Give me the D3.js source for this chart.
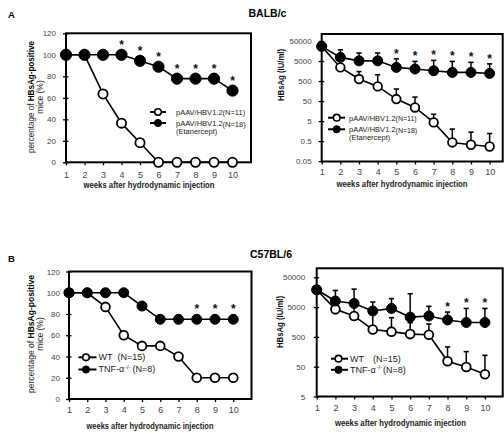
<!DOCTYPE html>
<html><head><meta charset="utf-8">
<script src="https://cdn.jsdelivr.net/npm/d3@7"></script>
<style>body{margin:0;background:#fff}svg{display:block}text{font-family:"Liberation Sans",Arial,sans-serif}</style>
</head><body>
<svg id="c" width="504" height="434"></svg>
<script>
// ---------- data ----------
const weeks = [1,2,3,4,5,6,7,8,9,10];
const weekLabels = ["1","2","3","4","5","6","7","8","9","10"];
const pctTicks = [0,20,40,60,80,100,120];
const pctTickLabels = ["0","20","40","60","80","100","120"];
const iuTicksA = [0.05,0.5,5,50,500,5000,50000];
const iuTickLabelsA = ["0.05","0.5","5","50","500","5000","50000"];
const iuTicksB = [5,50,500,5000,50000];
const iuTickLabelsB = ["5","50","500","5000","50000"];

// Panel A (BALB/c)
const aCtrlPct = [100,100,63.6,36.4,18.2,0,0,0,0,0];
const aEtaPct  = [100,100,100,100,94.4,88.9,77.8,77.8,77.8,66.7];
const aCtrlIU    = [27000,2400,630,270,63,24,4.3,0.43,0.33,0.27];
const aCtrlIUErr = [27000,3500,1500,1030,200,79,11,2,1.4,1.2];
const aEtaIU     = [27000,7600,5100,5100,2400,2000,1630,1350,1350,1200];
const aEtaIUErr  = [27000,18000,12600,12600,6500,4800,5400,4800,4300,3600];
const aStarWeeksPct = [4,5,6,7,8,9,10];
const aStarWeeksIU  = [5,6,7,8,9,10];
const aLegend = ["pAAV/HBV1.2", "(N=11)", "pAAV/HBV1.2", "(N=18)", "(Etanercept)"];

// Panel B (C57BL/6)
const bWtPct = [100,100,86.7,60,50,50,40,20,20,20];
const bKoPct = [100,100,100,100,87.5,75,75,75,75,75];
const bWtIU    = [19000,4200,2500,880,750,620,590,76,49,28];
const bWtIUErr = [19000,6000,5500,3000,2200,1500,1350,230,160,120];
const bKoIU    = [19000,8000,6600,3700,4500,2300,2500,1850,1520,1520];
const bKoIUErr = [19000,18000,20000,7400,9600,14000,5300,3400,4500,4500];
const bStarWeeksPct = [8,9,10];
const bStarWeeksIU  = [8,9,10];
const bLegend = ["WT", "(N=15)", "TNF-\u03b1", "-/-", "(N=8)"];

const xTitle = "weeks after hydrodynamic injection";
const pctTitle1a = "percentage of ", pctTitle1b = "HBsAg-positive", pctTitle2 = "mice (%)";
const iuTitle = "HBsAg (IU/ml)";

// ---------- drawing ----------
const svg = d3.select("#c");

function drawPanel(p) {
  const x = d3.scaleLinear().domain(p.xDomain).range([p.x0, p.x1]);
  const y = (p.log ? d3.scaleLog() : d3.scaleLinear()).domain(p.yDomain).range([p.y1, p.y0]);
  const g = svg.append("g");

  // x axis
  const xa = g.append("g").attr("transform", `translate(0,${p.y1})`)
    .call(d3.axisBottom(x).tickValues(weeks).tickFormat(d => weekLabels[weeks.indexOf(d)])
      .tickSize(3).tickSizeOuter(0).tickPadding(p.xPad));
  xa.select(".domain").remove();
  xa.selectAll(".tick line").attr("stroke", "#000").attr("stroke-width", 1.3);
  xa.selectAll("text").attr("font-size", 9).attr("fill", "#444").attr("font-family", "Liberation Sans, Arial, sans-serif");

  // y axis
  const ya = g.append("g").attr("transform", `translate(${p.x0},0)`)
    .call(d3.axisLeft(y).tickValues(p.yTicks).tickFormat(d => p.yLabels[p.yTicks.indexOf(d)])
      .tickSize(3).tickSizeOuter(0).tickPadding(p.yPad));
  ya.select(".domain").remove();
  ya.selectAll(".tick line").attr("x1", 2.5).attr("stroke", "#000").attr("stroke-width", 1.3);
  ya.selectAll("text").attr("font-size", 8).attr("fill", "#444").attr("font-family", "Liberation Sans, Arial, sans-serif");

  // frame
  g.append("rect").attr("x", p.x0).attr("y", p.y0).attr("width", p.x1 - p.x0).attr("height", p.y1 - p.y0)
    .attr("fill", "none").attr("stroke", "#000").attr("stroke-width", 2);

  // error bars (upper only)
  p.series.forEach(s => {
    if (!s.err) return;
    weeks.forEach((w, i) => {
      if (s.err[i] <= s.vals[i]) return;
      const cx = x(w), yv = y(s.vals[i]), ye = y(s.err[i]);
      g.append("line").attr("x1", cx).attr("x2", cx).attr("y1", yv).attr("y2", ye)
        .attr("stroke", "#000").attr("stroke-width", 1.5);
      g.append("line").attr("x1", cx - 2.6).attr("x2", cx + 2.6).attr("y1", ye).attr("y2", ye)
        .attr("stroke", "#000").attr("stroke-width", 1.6);
    });
  });

  // lines + markers
  p.series.forEach(s => {
    const line = d3.line().x((d, i) => x(weeks[i])).y(d => y(d));
    g.append("path").attr("d", line(s.vals)).attr("fill", "none").attr("stroke", "#000").attr("stroke-width", 1.6);
    g.selectAll(null).data(s.vals).enter().append("circle")
      .attr("cx", (d, i) => x(weeks[i])).attr("cy", d => y(d))
      .attr("r", s.filled ? p.rf : p.ro)
      .attr("fill", s.filled ? "#000" : "#fff").attr("stroke", "#000").attr("stroke-width", s.filled ? 1 : 1.8);
  });

  // asterisks
  p.stars.weeks.forEach(w => {
    const i = weeks.indexOf(w);
    const cy = p.stars.err ? y(p.stars.err[i]) - 8 : y(p.stars.vals[i]) - 13;
    g.append("text").attr("x", x(w)).attr("y", cy + 7).attr("text-anchor", "middle")
      .attr("font-size", 12).attr("font-weight", "bold").attr("fill", "#111").text("*");
  });

  // x title
  g.append("text").attr("x", p.xt[0]).attr("y", p.xt[1]).attr("text-anchor", "middle")
    .attr("font-size", 9).attr("font-weight", "bold").attr("fill", "#222")
    .attr("textLength", p.xt[2]).attr("lengthAdjust", "spacingAndGlyphs").text(xTitle);

  // y title
  if (p.log) {
    g.append("text").attr("transform", `translate(${p.yt[0]},${p.yt[1]}) rotate(-90)`)
      .attr("text-anchor", "middle").attr("font-size", 9).attr("font-weight", "bold").attr("fill", "#111")
      .attr("textLength", p.yt[2]).attr("lengthAdjust", "spacingAndGlyphs").text(iuTitle);
  } else {
    const t = g.append("text").attr("transform", `translate(${p.yt[0]},${p.yt[1]}) rotate(-90)`)
      .attr("text-anchor", "middle").attr("font-size", 8.5).attr("fill", "#222")
      .attr("textLength", p.yt[2]).attr("lengthAdjust", "spacingAndGlyphs");
    t.append("tspan").text(pctTitle1a);
    t.append("tspan").attr("font-weight", "bold").attr("fill", "#000").text(pctTitle1b);
    g.append("text").attr("transform", `translate(${p.yt[0] + 9},${p.yt[1]}) rotate(-90)`)
      .attr("text-anchor", "middle").attr("font-size", 8.5).attr("fill", "#222").text(pctTitle2);
  }

  // legend
  const L = p.legend;
  L.items.forEach((it, k) => {
    const ly = L.y[k];
    g.append("line").attr("x1", L.x[0]).attr("x2", L.x[1]).attr("y1", ly).attr("y2", ly)
      .attr("stroke", "#000").attr("stroke-width", 2);
    g.append("circle").attr("cx", L.x[2]).attr("cy", ly).attr("r", it.filled ? 3.6 : 3.3)
      .attr("fill", it.filled ? "#000" : "#fff").attr("stroke", "#000").attr("stroke-width", it.filled ? 1 : 1.6);
    const t = g.append("text").attr("x", L.tx).attr("y", ly + 2.8).attr("font-size", L.fs).attr("fill", "#222");
    it.parts.forEach(pt => {
      const ts = t.append("tspan").text(pt.t);
      if (pt.fs) ts.attr("font-size", pt.fs);
      if (pt.dy) ts.attr("dy", pt.dy);
      if (pt.dx) ts.attr("dx", pt.dx);
    });
    if (it.sub) {
      g.append("text").attr("x", L.tx).attr("y", ly + 10.5).attr("font-size", L.fs).attr("fill", "#222").text(it.sub);
    }
  });
}

// Panel A left
drawPanel({
  x0: 66, x1: 251, y0: 33.3, y1: 162.3, xDomain: [1, 11], yDomain: [0, 120], log: false,
  yTicks: pctTicks, yLabels: pctTickLabels, xPad: 6, yPad: 7, rf: 5.6, ro: 4.6,
  series: [{vals: aCtrlPct, filled: false}, {vals: aEtaPct, filled: true}],
  stars: {weeks: aStarWeeksPct, vals: aEtaPct},
  xt: [149, 188, 131], yt: [33.5, 97, 112],
  legend: {x: [150, 166, 158], y: [112, 123], tx: 176, fs: 7.5,
    items: [
      {filled: false, parts: [{t: aLegend[0]}, {t: aLegend[1]}]},
      {filled: true, parts: [{t: aLegend[2]}, {t: aLegend[3], dy: 1}], sub: aLegend[4]}
    ]}
});

// Panel A right
drawPanel({
  x0: 321.7, x1: 502.7, y0: 34, y1: 161.5, xDomain: [1, 10.7], yDomain: [0.048, 112000], log: true,
  yTicks: iuTicksA, yLabels: iuTickLabelsA, xPad: 4, yPad: 7, rf: 5, ro: 4.3,
  series: [{vals: aCtrlIU, err: aCtrlIUErr, filled: false}, {vals: aEtaIU, err: aEtaIUErr, filled: true}],
  stars: {weeks: aStarWeeksIU, err: aEtaIUErr},
  xt: [402, 187, 131], yt: [283.5, 75, 52],
  legend: {x: [328, 345, 336.7], y: [117.7, 129.3], tx: 349, fs: 7.5,
    items: [
      {filled: false, parts: [{t: aLegend[0]}, {t: aLegend[1], fs: 7}]},
      {filled: true, parts: [{t: aLegend[2]}, {t: aLegend[3], fs: 7, dy: 0.5}], sub: aLegend[4]}
    ]}
});

// Panel B left
drawPanel({
  x0: 69, x1: 251.5, y0: 271.5, y1: 399, xDomain: [1, 11], yDomain: [0, 120], log: false,
  yTicks: pctTicks, yLabels: pctTickLabels, xPad: 5, yPad: 6, rf: 5, ro: 4.4,
  series: [{vals: bWtPct, filled: false}, {vals: bKoPct, filled: true}],
  stars: {weeks: bStarWeeksPct, vals: bKoPct},
  xt: [150, 429, 127], yt: [33.5, 334, 118],
  legend: {x: [78.5, 96.5, 86], y: [357.3, 369.5], tx: 98.5, fs: 9,
    items: [
      {filled: false, parts: [{t: bLegend[0]}, {t: bLegend[1], dx: 5}]},
      {filled: true, parts: [{t: bLegend[2]}, {t: bLegend[3], fs: 5.5, dy: -3.5, dx: 1}, {t: bLegend[4], dy: 3.5, dx: 2}]}
    ]}
});

// Panel B right
drawPanel({
  x0: 316.7, x1: 502.7, y0: 268.3, y1: 396.5, xDomain: [1, 10.95], yDomain: [5, 100000], log: true,
  yTicks: iuTicksB, yLabels: iuTickLabelsB, xPad: 5, yPad: 8.5, rf: 5, ro: 4.4,
  series: [{vals: bWtIU, err: bWtIUErr, filled: false}, {vals: bKoIU, err: bKoIUErr, filled: true}],
  stars: {weeks: bStarWeeksIU, err: bKoIUErr},
  xt: [400.5, 425.5, 131], yt: [282.5, 322, 52],
  legend: {x: [331, 348, 338.5], y: [358.7, 369.8], tx: 350, fs: 9,
    items: [
      {filled: false, parts: [{t: bLegend[0]}, {t: bLegend[1], dx: 9}]},
      {filled: true, parts: [{t: bLegend[2]}, {t: bLegend[3], fs: 5.5, dy: -3.5, dx: 1}, {t: bLegend[4], dy: 3.5, dx: 1}]}
    ]}
});

// panel labels and strain titles
svg.append("text").attr("x", 8).attr("y", 17.5).attr("font-size", 9.5).attr("font-weight", "bold").text("A");
svg.append("text").attr("x", 267.5).attr("y", 16.8).attr("text-anchor", "middle").attr("font-size", 10.5).attr("font-weight", "bold").text("BALB/c");
svg.append("text").attr("x", 8).attr("y", 261.7).attr("font-size", 9.5).attr("font-weight", "bold").text("B");
svg.append("text").attr("x", 271).attr("y", 258).attr("text-anchor", "middle").attr("font-size", 10.5).attr("font-weight", "bold").text("C57BL/6");
</script>
</body></html>
